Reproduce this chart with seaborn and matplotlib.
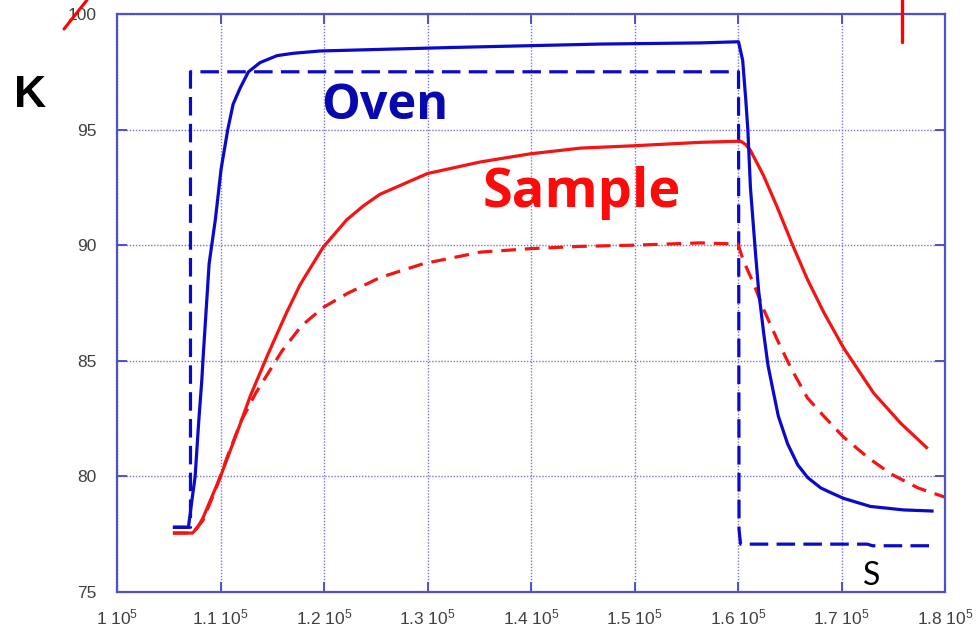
import matplotlib
matplotlib.use("Agg")
import matplotlib.pyplot as plt
import matplotlib.lines as mlines
import seaborn as sns
import pandas as pd

# --- data: time (s) and temperature (K) ---------------------------------
oven_t = [105400, 106900, 107250, 107550, 107900, 108200, 108300, 108900,
          109500, 110060, 110700, 111220, 111900, 112700, 113830, 115470,
          117020, 119600, 132200, 146700, 156400, 160050, 160450, 160750,
          160950, 161200, 161700, 162000, 162480, 162900, 163440, 163900,
          164800, 165770, 166730, 168000, 168950, 170200, 172800, 176000,
          178900]
oven_k = [77.8, 77.8, 79.0, 80.0, 82.4, 84.2, 85.0, 89.2,
          91.1, 93.3, 95.0, 96.1, 96.8, 97.5, 97.9, 98.2,
          98.3, 98.4, 98.55, 98.7, 98.75, 98.8, 98.0, 96.3,
          95.0, 92.5, 89.6, 88.0, 86.2, 84.8, 83.6, 82.6,
          81.4, 80.5, 79.95, 79.5, 79.3, 79.05, 78.7, 78.55,
          78.5]

setpoint_t = [105400, 107100, 107100, 160050, 160100, 160250, 172500, 173000, 179100]
setpoint_k = [77.8, 77.8, 97.5, 97.5, 77.7, 77.07, 77.07, 77.0, 77.0]

sample_t = [105400, 107300, 107800, 108300, 110000, 111600, 112900, 114600,
            116400, 117700, 119900, 122200, 123800, 125400, 130000, 135100,
            139900, 144800, 149900, 156400, 160250, 160750, 161200, 162480,
            163830, 165280, 166730, 168280, 170210, 173110, 175720, 178330]
sample_k = [77.55, 77.55, 77.8, 78.2, 80.0, 81.9, 83.5, 85.3,
            87.1, 88.3, 89.9, 91.1, 91.7, 92.2, 93.1, 93.6,
            93.95, 94.2, 94.3, 94.45, 94.5, 94.35, 94.1, 93.0,
            91.6, 90.0, 88.5, 87.1, 85.55, 83.6, 82.3, 81.2]

sample_ref_t = [105400, 107300, 108300, 109500, 110700, 112000, 113400, 115900,
                117800, 119900, 122200, 125400, 129600, 135100, 139900, 144800,
                149900, 156400, 160000, 160500, 161500, 162500, 163800, 165100,
                166700, 168300, 170200, 172600, 174800, 177400, 180000]
sample_ref_k = [77.55, 77.55, 78.1, 79.4, 80.9, 82.4, 83.6, 85.4,
                86.5, 87.3, 87.9, 88.6, 89.2, 89.7, 89.85, 89.95,
                90.0, 90.1, 90.05, 89.35, 88.35, 87.2, 85.9, 84.7,
                83.4, 82.6, 81.7, 80.8, 80.1, 79.5, 79.1]

x_ticks = [100000, 110000, 120000, 130000, 140000, 150000, 160000, 170000, 180000]
x_tick_labels = ["1 10$^5$", "1.1 10$^5$", "1.2 10$^5$", "1.3 10$^5$", "1.4 10$^5$",
                 "1.5 10$^5$", "1.6 10$^5$", "1.7 10$^5$", "1.8 10$^5$"]
y_ticks = [75, 80, 85, 90, 95, 100]
y_tick_labels = ["75", "80", "85", "90", "95", "100"]

# --- styling -------------------------------------------------------------
sns.set_theme(style="white")
plt.rcParams["font.family"] = ["Liberation Sans", "DejaVu Sans"]
plt.rcParams["mathtext.default"] = "regular"

FRAME = "#5050c8"
GRID = "#7878d4"
BLUE = "#0a0ac8"
RED = "#f41414"

fig = plt.figure(figsize=(9.76, 6.29), dpi=100)
ax = fig.add_axes([117 / 976, 1 - 592 / 629, (945 - 117) / 976, (592 - 14) / 629])

def draw(t, k, color, dashed, lw=2.3, dash=(5.8, 2.6)):
    df = pd.DataFrame({"t": t, "k": k})
    sns.lineplot(data=df, x="t", y="k", ax=ax, color=color, lw=lw,
                 estimator=None, sort=False, legend=False)
    line = ax.get_lines()[-1]
    if dashed:
        line.set_dashes(dash)
    line.set_solid_capstyle("butt")
    line.set_dash_capstyle("butt")
    line.set_solid_joinstyle("round")

draw(setpoint_t, setpoint_k, BLUE, True, dash=(5.8, 2.6))
draw(sample_ref_t, sample_ref_k, RED, True, dash=(4.6, 2.8))
draw(sample_t, sample_k, RED, False)
draw(oven_t, oven_k, BLUE, False)

ax.set_xlim(100000, 180000)
ax.set_ylim(75, 100)
ax.set_xticks(x_ticks)
ax.set_xticklabels(x_tick_labels)
ax.set_yticks(y_ticks)
ax.set_yticklabels(y_tick_labels)
ax.set_xlabel("")
ax.set_ylabel("")

ax.grid(True, which="major", color=GRID, linestyle=(0, (1, 1.2)), lw=1.0)
ax.set_axisbelow(True)
for s in ax.spines.values():
    s.set_color(FRAME)
    s.set_linewidth(1.6)
    s.set_visible(True)
ax.tick_params(axis="both", direction="in", length=7, width=1.4, color=FRAME,
               labelcolor="#404040", labelsize=12.5, top=True, right=True,
               bottom=True, left=True)
ax.tick_params(axis="y", pad=15)
ax.tick_params(axis="x", pad=11)

# --- annotations ---------------------------------------------------------
ax.text(125900, 95.48, "Oven", color="#0808b0", fontsize=35, fontweight="bold",
        family=["Open Sans", "DejaVu Sans"], ha="center", va="baseline")
ax.text(144870, 91.64, "Sample", color="#ff0a0a", fontsize=39, fontweight="bold",
        family=["Open Sans", "DejaVu Sans"], ha="center", va="baseline")
ax.text(172920, 75.3, "S", color="black", fontsize=23,
        family=["Lato", "DejaVu Sans"], ha="center", va="baseline")

fig.text(30 / 976, 1 - 107 / 629, "K", color="black", fontsize=32,
         fontweight="bold", family=["Liberation Sans", "DejaVu Sans"],
         ha="center", va="baseline")

# red marks on the page
fig.add_artist(mlines.Line2D([64 / 976, 87 / 976], [1 - 29 / 629, 1.0],
                             color="#ff0000", lw=2.2, transform=fig.transFigure))
fig.add_artist(mlines.Line2D([902 / 976, 902 / 976], [1 - 42 / 629, 1.0],
                             color="#ff0000", lw=2.4, transform=fig.transFigure))

fig.savefig("out.png", dpi=100)
